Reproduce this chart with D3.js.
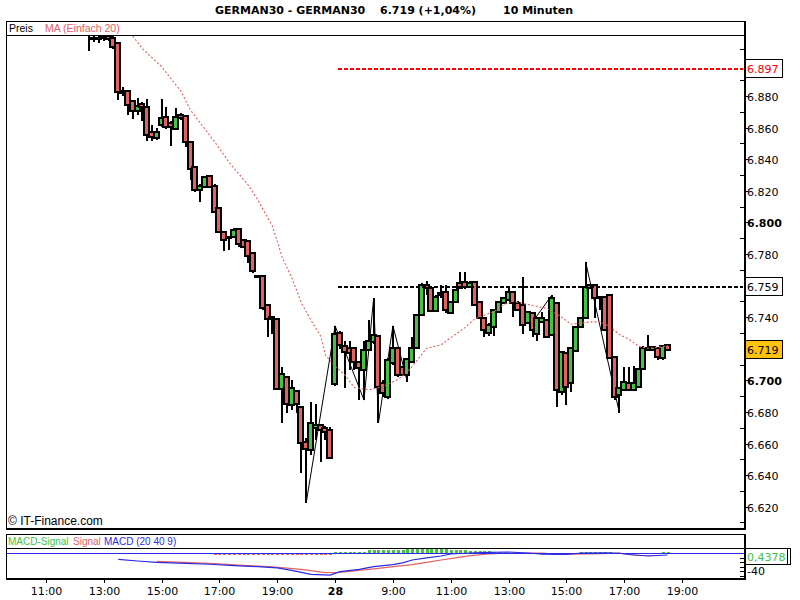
<!DOCTYPE html>
<html><head><meta charset="utf-8">
<script src="https://cdn.jsdelivr.net/npm/d3@7"></script>
<style>body{margin:0;background:#fff}svg{display:block}</style>
</head><body><svg id="c" width="800" height="600"></svg>
<script>
// ---- data ----
const startIndex = 9; // candle index of first candle (index 0 = 11:00 day 1)
const openV = [6921,6917,6916,6918,6918,6916.5,6913.5,6883,6883,6877,
6870.5,6875,6873,6857,6853.5,6861.5,6866.5,6863,6859,6868,
6867.5,6851,6835,6820.5,6822.5,6829.5,6823,6809,6794,6790.5,
6790.5,6796,6789,6788,6780.5,6766,6766,6747.5,6740,6739,
6694.5,6702,6684.5,6693,6683,6661,6656,6670,6671.5,6670,
6668.5,6697.5,6730,6722,6720.5,6720.5,6711.5,6706.5,6719,6724.5,
6728,6698,6689.5,6711,6720.5,6708.5,6703.5,6711.5,6720.5,6741.5,
6760.5,6758.5,6744,6755.5,6756,6742.5,6749.5,6761.5,6762.5,6759,
6762.5,6749.5,6739.5,6730,6734,6743.5,6749,6751,6756,6749,
6747.5,6736.5,6742.5,6729.5,6737,6738,6728.5,6749,6692.5,6717.5,
6698.5,6718.5,6734,6739.5,6758.5,6760.5,6753,6753,6754,6715,
6691,6694,6698.5,6694,6696,6707,6720.5,6719,6720.5,6714,6722.5];
const highV = [6924,6920,6919,6920,6920,6918,6914,6886,6883.5,6877,
6878.5,6876,6878,6861.5,6860,6878,6873,6864,6872.5,6869,
6868,6851,6836,6824,6829,6830,6824,6809.5,6794,6791,
6796.5,6796,6789,6789,6781,6766.5,6766.5,6748,6740.5,6739,
6708.5,6702.5,6700,6694,6684,6663.5,6686,6685,6672.5,6671,
6670.5,6734.5,6731,6725,6725,6721,6712,6725,6738,6752,
6729,6700.5,6714,6734.5,6721,6709,6714,6727.5,6742,6761.5,
6763,6759,6754,6760.5,6760.5,6750,6758,6768.5,6768.5,6763,
6763,6750,6740,6736,6745,6750,6753,6759,6756.5,6750,
6765.5,6744,6743,6740,6743.5,6738.5,6754,6749.5,6718,6718,
6721,6734,6740,6775,6761,6761,6753.5,6753,6754.5,6715,
6695.5,6708.5,6708.5,6709,6707.5,6722,6728.5,6721.5,6721,6722.5,6722.5];
const lowV = [6908.5,6914,6913.5,6915,6915,6910,6877.5,6880,6868,6865.5,
6868,6864,6851.5,6851.5,6852,6860.5,6859,6848.5,6858.5,6865,
6847.5,6827,6819.5,6813,6821.5,6821.5,6806,6793.5,6782,6782.5,
6790,6784.5,6784,6774.5,6768,6765,6744.5,6727.5,6729.5,6694,
6673,6679.5,6681.5,6679.5,6641.5,6622.5,6652.5,6662,6648.5,6662,
6650,6696.5,6720,6695,6706.5,6706.5,6687.5,6687.5,6718.5,6723,
6673,6689.5,6688,6710,6702,6702.5,6699,6711,6720,6741,
6754,6743.5,6743,6752,6742.5,6742,6749,6758,6758,6758.5,
6747,6739,6727.5,6728,6728,6743,6748.5,6750,6740,6744,
6729.5,6736,6727.5,6725,6736.5,6727,6728,6683,6691,6684.5,
6692.5,6718,6733,6739,6758,6739.5,6744.5,6731.5,6714,6687.5,
6679.5,6693.5,6693.5,6693.5,6695.5,6707,6719,6718.5,6713,6713,6718.5];
const closeV = [6920,6916,6917,6917,6916,6911,6882.5,6882,6874.5,6870.5,
6873.5,6873,6855.5,6854,6857,6866,6860.5,6860.5,6866.5,6866,
6851,6834,6820.5,6823,6828.5,6822.5,6806.5,6794,6789,6790,
6795,6786.5,6784.5,6778.5,6769,6765.5,6746,6739,6739.5,6694.5,
6704,6685,6695,6685,6660.5,6656.5,6673,6671.5,6668.5,6667.5,
6651,6729.5,6722.5,6718,6717.5,6711.5,6708,6719,6725,6728.5,
6696,6692,6713,6720.5,6703.5,6703.5,6713.5,6720.5,6741.5,6760.5,
6758.5,6744,6753,6754,6744.5,6749.5,6757,6758.5,6759,6761.5,
6747.5,6739.5,6732,6735,6744.5,6749.5,6752,6756,6749,6744.5,
6735,6743.5,6732,6739.5,6739.5,6727.5,6752,6694,6718,6696,
6720.5,6734,6739.5,6759,6760.5,6752,6752,6732,6714,6689.5,
6695,6699,6694,6698.5,6707,6720.5,6719,6721,6715,6721.5,6719];

const maIdx = [16,18,20,24,28,30,35,38,42,44,47,48,49,51,53,55,57,58,60,62,64,67,70,73,75,79,82,84,87,89,93,95,97,100,104,107,109,113,115,117,119,121,123,125,128,129];
const maVal = [6926,6918,6910,6898.5,6883,6871,6851,6838,6823.5,6814,6797.5,6788,6778,6765,6749,6738,6728,6716,6709,6703.5,6695.5,6694,6696,6700.5,6705,6720.3,6722.5,6727,6733.5,6739,6743.5,6748,6750,6748,6745.5,6740,6735.5,6737,6737,6734,6729,6726,6721.5,6720.3,6721.3,6722];

// zigzag swing points (null = break in the line)
const zzIdx = [54,60,66,68,69,72,75,null,101,105,null,112,119];
const zzVal = [6622.5,6734.5,6687.5,6752,6673,6734.5,6699,null,6737,6754,null,6775,6679.5];

const macdIdx = [15,19,23,29,34,39,44,48,51,55,59,61,65,68,72,74,76,79,82,84,88,92,96,100,103,106,108,111,116,119,121,125,129];
const macdVal = [-14,-17.8,-20.7,-23,-25,-28,-30.4,-33,-38.5,-47.4,-49,-41.5,-36.3,-30.4,-25.9,-22,-15.6,-11,-6.7,-2.2,0,1.5,2.2,0,-2.5,-3.3,-3.3,0,0.5,-0.5,-3.3,-6.7,-4.4];
const sigIdx = [23,30,35,41,47,53,58,61,65,69,73,76,79,82,85,88,92,94,98,103,107,113,119,121,123,127];
const sigVal = [-18.5,-21.5,-23.7,-27.4,-31,-36.3,-43.7,-43,-38.5,-34,-29,-26,-20.7,-15.6,-11,-6,-2.2,-0.7,0,0,-3.3,-2.2,-0.5,-3.3,-5.5,-5.5];
const histStart = 23;
const histVal = [-2.5,-2.5,0,0,0,0,0,0,0,-2.5,0,0,
-3.5,-3.5,-4,-4,-4,-4,-4.5,-4.5,-4.5,-5,-5,-5,-5,-5,-5,-5,-5,-5,-4.5,-4.5,-4,-4,-4,-3.5,-3.5,
2,2,2,3.3,3.3,3.3,3.3,6,7,7.4,7.4,7.4,7.4,7.4,7.4,8,9.6,9.6,9.6,9.6,9.6,9.6,9.6,8,7.4,7.4,7.4,6,5,5,3.7,3.7,3.7,2.2,2.2,
0,0,0,0,0,0,0,0,0,0,0,0,0,0,0,0,
2.2,2.2,2.2,2.2,2.2,2.2,2.2,
0,0,0,
-2.2,-2.2,-2.2,
0,0,0,0,
2.2,2.2];

const xTickIdx = [0,12,24,36,48,60,72,84,96,108,120,132];
const xTickLabels = ["11:00","13:00","15:00","17:00","19:00","28","9:00","11:00","13:00","15:00","17:00","19:00"];
const yTickVals = [6620,6640,6660,6680,6700,6720,6740,6760,6780,6800,6820,6840,6860,6880,6900];
const yLabelVals = [6620,6640,6660,6680,6700,6740,6780,6800,6820,6840,6860,6880];
const yMinorVals = [6610,6630,6650,6670,6690,6710,6730,6750,6770,6790,6810,6830,6850,6870,6890,6910];
const boldTicks = [6700,6800];
const levelRed = 6897, levelBlack = 6759, lastPrice = 6719;
const macdTickVals = [-10,-20,-30,-40,-50];
const macdLabelVal = "0,4378";

// ---- setup ----
const svg = d3.select("#c");
const x = d3.scaleLinear().domain([0,132]).range([46,682]);
const y = d3.scaleLinear().domain([6620,6880]).range([506.7,96]);
const ym = d3.scaleLinear().domain([-40,0]).range([571,553]);
const de = d3.formatLocale({decimal:",",thousands:".",grouping:[3],currency:["","€"]});
const fmtP = de.format(",.0f");
const RED="#e06262", GREEN="#42c442", BLUE="#2b2be6";
const FONT="DejaVu Sans", LFONT="Liberation Sans";

// title
const tg = svg.append("g").attr("font-family",FONT).attr("font-weight","bold").attr("font-size",11).attr("fill","#000");
tg.append("text").attr("x",215).attr("y",14).text("GERMAN30 - GERMAN30");
tg.append("text").attr("x",380).attr("y",14).text("6.719 (+1,04%)");
tg.append("text").attr("x",503).attr("y",14).text("10 Minuten");

// clips
const defs = svg.append("defs");
defs.append("clipPath").attr("id","mainClip").append("rect")
  .attr("x",7).attr("y",36).attr("width",736).attr("height",491);
defs.append("clipPath").attr("id","macdClip").append("rect")
  .attr("x",7).attr("y",549).attr("width",736).attr("height",28);

const main = svg.append("g").attr("clip-path","url(#mainClip)");

// zigzag
main.append("path")
  .datum(zzIdx.map((d,k)=>[d,zzVal[k]]))
  .attr("fill","none").attr("stroke","#000").attr("stroke-width",1)
  .attr("d",d3.line().defined(d=>d[0]!==null).x(d=>x(d[0])).y(d=>y(d[1])));

// candles
const candles = openV.map((o,k)=>({i:startIndex+k,o:o,h:highV[k],l:lowV[k],c:closeV[k]}));
const cg = main.append("g").attr("shape-rendering","crispEdges");
candles.forEach(d=>{
  const cx = Math.round(x(d.i));
  cg.append("line").attr("x1",cx).attr("x2",cx)
    .attr("y1",Math.round(y(d.h))).attr("y2",Math.round(y(d.l)))
    .attr("stroke","#000").attr("stroke-width",2);
  const top = Math.round(y(Math.max(d.o,d.c)));
  const bot = Math.round(y(Math.min(d.o,d.c)));
  cg.append("rect").attr("x",cx-3).attr("y",top).attr("width",5)
    .attr("height",Math.max(1,bot-top))
    .attr("fill",d.c>=d.o?GREEN:RED).attr("stroke","#000").attr("stroke-width",2);
});

// moving average
main.append("path")
  .datum(maIdx.map((d,k)=>[d,maVal[k]]))
  .attr("fill","none").attr("stroke",RED).attr("stroke-width",1.1).attr("stroke-dasharray","2,2")
  .attr("d",d3.line().x(d=>x(d[0])).y(d=>y(d[1])));

// level lines
[[levelRed,"#f00"],[levelBlack,"#000"]].forEach(([v,col])=>{
  svg.append("line").attr("x1",338).attr("x2",743).attr("y1",Math.round(y(v))).attr("y2",Math.round(y(v)))
    .attr("stroke",col).attr("stroke-width",2).attr("stroke-dasharray","4,2").attr("shape-rendering","crispEdges");
});

// frames main
const fr = svg.append("g").attr("stroke","#000").attr("shape-rendering","crispEdges");
fr.append("line").attr("x1",6).attr("x2",745).attr("y1",21.5).attr("y2",21.5).attr("stroke-width",1);
fr.append("line").attr("x1",6.5).attr("x2",6.5).attr("y1",21).attr("y2",529).attr("stroke-width",1);
fr.append("line").attr("x1",6).attr("x2",744).attr("y1",35.5).attr("y2",35.5).attr("stroke-width",1);
fr.append("line").attr("x1",6).attr("x2",746).attr("y1",528.5).attr("y2",528.5).attr("stroke-width",2);
fr.append("line").attr("x1",744.5).attr("x2",744.5).attr("y1",21).attr("y2",529).attr("stroke-width",2);

// legend main
svg.append("text").attr("x",9).attr("y",32).attr("font-family",LFONT).attr("font-size",10.5).text("Preis");
svg.append("text").attr("x",45).attr("y",32).attr("font-family",LFONT).attr("font-size",10.5).attr("fill",RED).text("MA (Einfach 20)");
svg.append("text").attr("x",8).attr("y",525).attr("font-family",LFONT).attr("font-size",12).text("© IT-Finance.com");

// y axis ticks & labels
const ax = svg.append("g").attr("shape-rendering","crispEdges");
yMinorVals.forEach(v=>{
  const yy=Math.round(y(v))+0.5;
  if(yy<36||yy>527) return;
  ax.append("line").attr("x1",740).attr("x2",744).attr("y1",yy).attr("y2",yy).attr("stroke","#000");
});
yTickVals.forEach(v=>{
  const yy=Math.round(y(v))+0.5;
  ax.append("line").attr("x1",744).attr("x2",748).attr("y1",yy).attr("y2",yy).attr("stroke","#000");
});
yLabelVals.forEach(v=>{
  const yy=Math.round(y(v))+0.5;
  svg.append("text").attr("x",747).attr("y",yy+4).attr("font-family",FONT).attr("font-size",11)
    .attr("font-weight",boldTicks.includes(v)?"bold":"normal").text(fmtP(v));
});

// value boxes
function box(v,fill,txtCol){
  const yy=Math.round(y(v));
  svg.append("rect").attr("x",745.5).attr("y",yy-9.5).attr("width",37).attr("height",18)
    .attr("fill",fill).attr("stroke","#000").attr("shape-rendering","crispEdges");
  svg.append("text").attr("x",747).attr("y",yy+4).attr("font-family",FONT).attr("font-size",11)
    .attr("fill",txtCol).text(fmtP(v));
}
box(levelRed,"#fff","#f00");
box(levelBlack,"#fff","#000");
box(lastPrice,"#ffc20e","#000");

// ---- MACD panel ----
const mg = svg.append("g").attr("clip-path","url(#macdClip)");
histVal.forEach((v,k)=>{
  if(v===0) return;
  const cx=Math.round(x(histStart+k));
  const y0=ym(0), y1=ym(v);
  mg.append("rect").attr("x",cx-1).attr("width",3)
    .attr("y",Math.round(Math.min(y0,y1))).attr("height",Math.max(1,Math.round(Math.abs(y1-y0))))
    .attr("fill",v>0?GREEN:RED).attr("shape-rendering","crispEdges");
});
svg.append("line").attr("x1",7).attr("x2",744).attr("y1",Math.round(ym(0))+0.5).attr("y2",Math.round(ym(0))+0.5)
  .attr("stroke",BLUE).attr("stroke-width",1);
mg.append("path").datum(sigIdx.map((d,k)=>[d,sigVal[k]]))
  .attr("fill","none").attr("stroke",RED).attr("stroke-width",1.2)
  .attr("d",d3.line().x(d=>x(d[0])).y(d=>ym(d[1])));
mg.append("path").datum(macdIdx.map((d,k)=>[d,macdVal[k]]))
  .attr("fill","none").attr("stroke",BLUE).attr("stroke-width",1.2)
  .attr("d",d3.line().x(d=>x(d[0])).y(d=>ym(d[1])));

const mf = svg.append("g").attr("stroke","#000").attr("shape-rendering","crispEdges");
mf.append("line").attr("x1",6).attr("x2",745).attr("y1",534.5).attr("y2",534.5);
mf.append("line").attr("x1",6).attr("x2",744).attr("y1",548.5).attr("y2",548.5);
mf.append("line").attr("x1",6).attr("x2",746).attr("y1",578.5).attr("y2",578.5).attr("stroke-width",2);
mf.append("line").attr("x1",6.5).attr("x2",6.5).attr("y1",534).attr("y2",579);
mf.append("line").attr("x1",744.5).attr("x2",744.5).attr("y1",534).attr("y2",579).attr("stroke-width",2);
macdTickVals.forEach(v=>{
  const yy=Math.round(ym(v))+0.5;
  mf.append("line").attr("x1",740).attr("x2",744).attr("y1",yy).attr("y2",yy);
});
svg.append("text").attr("x",747).attr("y",575).attr("font-family",FONT).attr("font-size",11).text("-40");

// macd legend
const ml = svg.append("text").attr("y",545).attr("font-family",LFONT).attr("font-size",10);
ml.append("tspan").attr("x",8).attr("fill",GREEN).text("MACD-Signal");
ml.append("tspan").attr("x",73).attr("fill",RED).text("Signal");
ml.append("tspan").attr("x",104).attr("fill",BLUE).text("MACD (20 40 9)");

// macd value box
svg.append("rect").attr("x",745.5).attr("y",548.5).attr("width",45).attr("height",16)
  .attr("fill","#fff").attr("stroke","#000").attr("shape-rendering","crispEdges");
svg.append("line").attr("x1",787.5).attr("x2",787.5).attr("y1",548.5).attr("y2",564.5).attr("stroke","#000").attr("shape-rendering","crispEdges");
svg.append("text").attr("x",747).attr("y",561).attr("font-family",FONT).attr("font-size",11).attr("fill",GREEN).text(macdLabelVal);

// x axis
xTickIdx.forEach((t,k)=>{
  const xx=Math.round(x(t))+0.5;
  svg.append("line").attr("x1",xx).attr("x2",xx).attr("y1",579).attr("y2",583).attr("stroke","#000").attr("shape-rendering","crispEdges");
  svg.append("text").attr("x",xx).attr("y",595).attr("text-anchor","middle")
    .attr("font-family",FONT).attr("font-size",11)
    .attr("font-weight",xTickLabels[k]==="28"?"bold":"normal").text(xTickLabels[k]);
});
</script></body></html>
